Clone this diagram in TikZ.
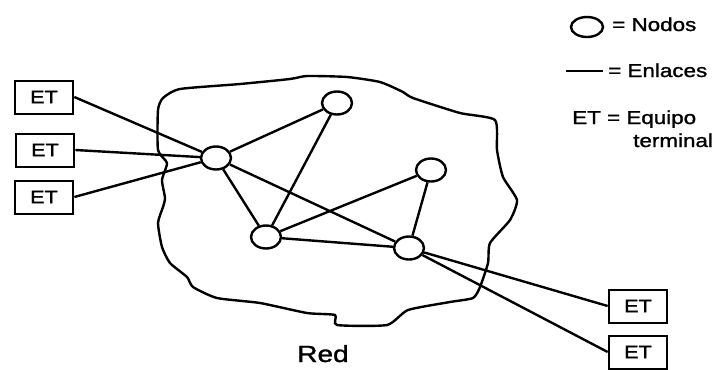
\documentclass[tikz,border=0pt]{standalone}
\usepackage{fontspec}
\setmainfont{Liberation Sans}[FakeBold=1.2]
\usepackage{graphicx}
\usetikzlibrary{shapes.geometric}
\newcommand{\ancho}[1]{\scalebox{1.2}[1]{#1}}

\begin{document}
\begin{tikzpicture}[x=0.75pt,y=-0.75pt,
    nodo/.style={draw,ellipse,line width=1.8pt,fill=white,inner sep=0pt,minimum width=22.5pt,minimum height=17.25pt},
    et/.style={draw,line width=1.5pt,fill=white,inner sep=0pt,minimum width=44pt,minimum height=24.75pt,font=\fontsize{13.5}{16}\selectfont},
    enlace/.style={line width=1.8pt},
    leyenda/.style={anchor=base west,inner sep=0pt,font=\fontsize{14}{17}\selectfont}]
                \useasboundingbox (0,0) rectangle (721,369);
                % Draw cloud
                \draw[enlace] plot[smooth cycle,tension=0.35] coordinates {
                    (158,150) (158,110) (163,98) (180,89) (240,84) (290,79) (307,76)
                    (347,77) (380,82) (403,92) (413,98) (460,113) (495,120) (497,150)
                    (503,177) (517,200) (510,220) (490,243) (488,263) (480,287)
                    (473,298) (450,302) (408,310) (387,325) (337,325) (335,315)
                    (307,313) (260,303) (217,298) (193,287) (187,277) (170,263)
                    (162,247) (158,223) (163,207) (165,198) (162,180) (167,163)};

                % Network nodes
                \node[nodo] (a) at (216,158) {};
                \node[nodo] (b) at (337,103) {};
                \node[nodo] (c) at (431,170) {};
                \node[nodo] (d) at (266,237) {};
                \node[nodo] (e) at (409,248) {};

                % Terminal equipment
                \node[et] (et1) at (44,97) {\ancho{ET}};
                \node[et] (et2) at (45,150) {\ancho{ET}};
                \node[et] (et3) at (44,197) {\ancho{ET}};
                \node[et] (et4) at (638,306) {\ancho{ET}};
                \node[et] (et5) at (638,352) {\ancho{ET}};

                % Links
                \draw[enlace] (a) -- (b);
                \draw[enlace] (a) -- (d);
                \draw[enlace] (a) -- (e);
                \draw[enlace] (b) -- (d);
                \draw[enlace] (d) -- (c);
                \draw[enlace] (d) -- (e);
                \draw[enlace] (c) -- (e);
                \draw[enlace] (et1.east) -- (a);
                \draw[enlace] (et2.east) -- (a);
                \draw[enlace] (et3.east) -- (a);
                \draw[enlace] (e) -- (et4.west);
                \draw[enlace] (e) -- (et5.west);

                % Caption
                \node[anchor=base,inner sep=0pt,font=\fontsize{17.5}{20}\selectfont] (red) at (323,362) {\ancho{Red}};

                % Legend
                \node[nodo,minimum width=24pt,minimum height=15pt] (lnodo) at (587,27) {};
                \node[leyenda] (lnodos) at (612,31) {\ancho{= Nodos}};
                \coordinate (lini) at (566,71);
                \coordinate (lfin) at (603,71);
                \draw[enlace] (lini) -- (lfin);
                \node[leyenda] (lenlaces) at (608,77) {\ancho{= Enlaces}};
                \node[leyenda] (lequipo) at (572,124) {\ancho{ET = Equipo}};
                \node[leyenda] (lterminal) at (633,147) {\ancho{terminal}};
            \end{tikzpicture}
\end{document}
